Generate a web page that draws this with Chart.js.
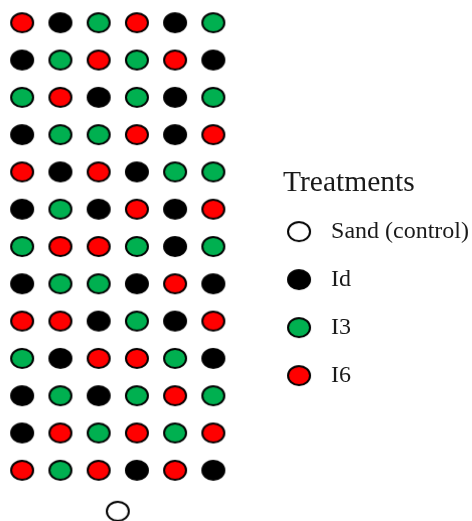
<!DOCTYPE html>
<html>
<head>
<meta charset="utf-8">
<script src="https://cdn.jsdelivr.net/npm/chart.js@4"></script>
<style>
  html, body { margin: 0; padding: 0; background: #ffffff; }
  #wrap { width: 472px; height: 521px; }
</style>
</head>
<body>
<div id="wrap"><canvas id="field"></canvas></div>
<script>
const treatments = ["Sand (control)", "Id", "I3", "I6"];
const columns = [1, 2, 3, 4, 5, 6];

// field layout, top row first
const layout = [
  ["I6", "Id", "I3", "I6", "Id", "I3"],
  ["Id", "I3", "I6", "I3", "I6", "Id"],
  ["I3", "I6", "Id", "I3", "Id", "I3"],
  ["Id", "I3", "I3", "I6", "Id", "I6"],
  ["I6", "Id", "I6", "Id", "I3", "I3"],
  ["Id", "I3", "Id", "I6", "Id", "I6"],
  ["I3", "I6", "I6", "I3", "Id", "I3"],
  ["Id", "I3", "I3", "Id", "I6", "Id"],
  ["I6", "I6", "Id", "I3", "Id", "I6"],
  ["I3", "Id", "I6", "I6", "I3", "Id"],
  ["Id", "I3", "Id", "I3", "I6", "I3"],
  ["Id", "I6", "I3", "I6", "I3", "I6"],
  ["I6", "I3", "I6", "Id", "I6", "Id"]
];

// single sand control pot below the block
const controlColumn = 3.5;
const controlRow = 14.1;

const fills = {
  "Sand (control)": "#ffffff",
  "Id": "#000000",
  "I3": "#00b050",
  "I6": "#ff0000"
};

function makeDot(fill) {
  const c = document.createElement("canvas");
  c.width = 26;
  c.height = 23;
  const ctx = c.getContext("2d");
  ctx.beginPath();
  ctx.ellipse(13, 11.5, 11, 9.5, 0, 0, Math.PI * 2);
  ctx.fillStyle = fill;
  ctx.fill();
  ctx.lineWidth = 2;
  ctx.strokeStyle = "#000000";
  ctx.stroke();
  return c;
}

function pointsFor(name) {
  if (name === "Sand (control)") {
    return [{ x: controlColumn, y: controlRow }];
  }
  const points = [];
  layout.forEach((row, r) => {
    row.forEach((t, c) => {
      if (t === name) {
        points.push({ x: columns[c], y: r + 1 });
      }
    });
  });
  return points;
}

// "Treatments" heading above the legend entries
const headingPlugin = {
  id: "heading",
  afterDraw(chart) {
    const legend = chart.legend;
    if (!legend || !legend.legendHitBoxes || !legend.legendHitBoxes.length) {
      return;
    }
    const first = legend.legendHitBoxes[0];
    const ctx = chart.ctx;
    ctx.save();
    ctx.font = "29.5px 'Liberation Serif'";
    ctx.fillStyle = "#1a1a1a";
    ctx.textAlign = "left";
    ctx.textBaseline = "alphabetic";
    ctx.fillText("Treatments", first.left + 4, first.top - 29);
    ctx.restore();
  }
};

const datasets = treatments.map((name) => ({
  label: name,
  data: pointsFor(name),
  pointStyle: makeDot(fills[name]),
  pointRadius: 11,
  pointHoverRadius: 11,
  showLine: false,
  clip: false
}));

new Chart(document.getElementById("field"), {
  type: "scatter",
  data: { datasets: datasets },
  plugins: [headingPlugin],
  options: {
    responsive: true,
    maintainAspectRatio: false,
    devicePixelRatio: 1,
    animation: false,
    layout: { autoPadding: false, padding: { top: 0, bottom: 0, left: 0, right: -7 } },
    scales: {
      x: { type: "linear", display: false, min: 0.42, max: 7.09 },
      y: { type: "linear", display: false, reverse: true, min: 0.39, max: 14.36 }
    },
    plugins: {
      tooltip: { enabled: false },
      legend: {
        position: "right",
        align: "start",
        title: {
          display: true,
          text: "",
          padding: { top: 162, bottom: 0 },
          font: { family: "'Liberation Serif'", size: 28, lineHeight: 1.2 }
        },
        labels: {
          usePointStyle: true,
          pointStyleWidth: 40,
          padding: 24,
          color: "#1a1a1a",
          font: { family: "'Liberation Serif'", size: 24 }
        }
      }
    }
  }
});
</script>
</body>
</html>
